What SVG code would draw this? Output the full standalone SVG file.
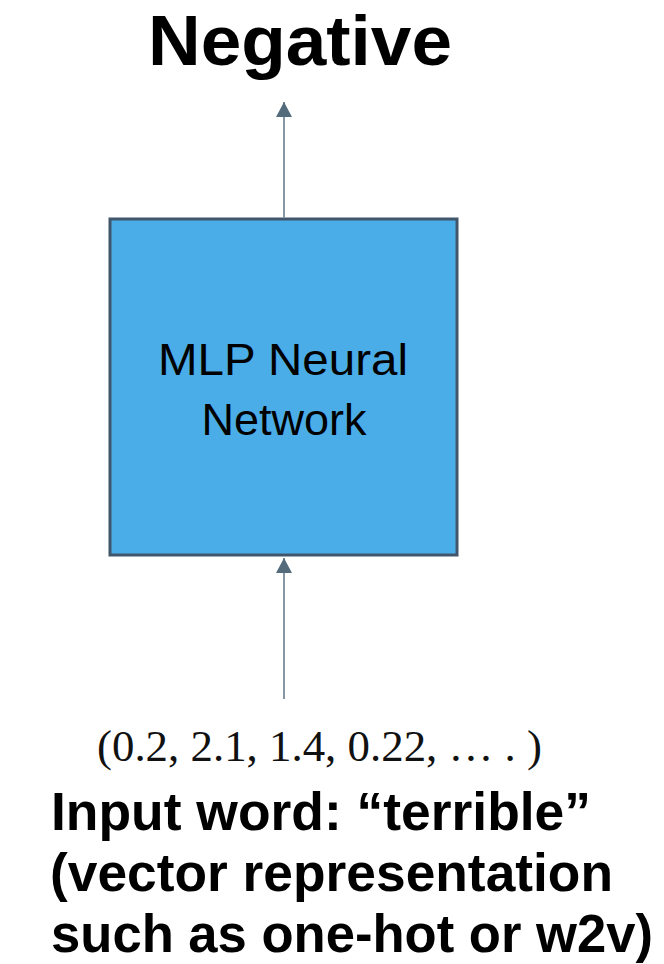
<svg xmlns="http://www.w3.org/2000/svg" width="664" height="964" viewBox="0 0 664 964">
<style>
.title{font-family:"Liberation Sans",Arial,sans-serif;font-weight:bold;fill:#000}
.lbl{font-family:"Liberation Sans",Arial,sans-serif;fill:#000}
.vec{font-family:"Liberation Serif","DejaVu Serif",serif;fill:#111}
.conn{stroke:#8497a3;stroke-width:2;fill:none}
</style>
<defs>
<marker id="ah" markerUnits="userSpaceOnUse" markerWidth="16" markerHeight="16" viewBox="0 0 16 16" refX="15" refY="8" orient="auto">
<path d="M0,0 L15,8 L0,16 Z" fill="#546b7b"/>
</marker>
</defs>
<rect width="664" height="964" fill="#fff"/>
<g id="output">
<text class="title" x="300" y="65" font-size="71" text-anchor="middle" textLength="304" lengthAdjust="spacingAndGlyphs">Negative</text>
</g>
<g id="mlp">
<rect x="110" y="219" width="347" height="336" fill="#4badE7" stroke="#42566b" stroke-width="3"/>
<text class="lbl" x="283" y="375" font-size="45" text-anchor="middle" textLength="250" lengthAdjust="spacingAndGlyphs">MLP Neural</text>
<text class="lbl" x="284" y="435" font-size="45" text-anchor="middle">Network</text>
</g>
<g id="vector">
<text class="vec" x="97" y="761" font-size="45" textLength="445" lengthAdjust="spacingAndGlyphs">(0.2, 2.1, 1.4, 0.22, … . )</text>
</g>
<g id="input">
<text class="title" x="51" y="830" font-size="53" textLength="540" lengthAdjust="spacingAndGlyphs">Input word: “terrible”</text>
<text class="title" x="50" y="891" font-size="53" textLength="563" lengthAdjust="spacingAndGlyphs">(vector representation</text>
<text class="title" x="51" y="952" font-size="53" textLength="602" lengthAdjust="spacingAndGlyphs">such as one-hot or w2v)</text>
</g>
<g id="connectors">
<line class="conn" x1="284" y1="218" x2="284" y2="102" marker-end="url(#ah)"/>
<line class="conn" x1="284" y1="699" x2="284" y2="558" marker-end="url(#ah)"/>
</g>
</svg>
